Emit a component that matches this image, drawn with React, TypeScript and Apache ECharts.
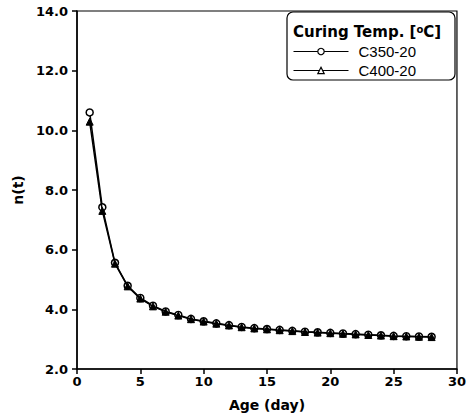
import React, { useEffect, useRef } from "react";
import * as echarts from "echarts";

const days = [1,2,3,4,5,6,7,8,9,10,11,12,13,14,15,16,17,18,19,20,21,22,23,24,25,26,27,28];
const c350 = [10.60,7.42,5.56,4.79,4.38,4.12,3.93,3.81,3.68,3.60,3.53,3.47,3.41,3.37,3.34,3.31,3.28,3.25,3.23,3.21,3.19,3.17,3.15,3.13,3.11,3.10,3.09,3.08];
const c400 = [10.29,7.30,5.53,4.77,4.36,4.10,3.92,3.79,3.67,3.59,3.52,3.46,3.40,3.36,3.33,3.30,3.27,3.24,3.22,3.20,3.18,3.16,3.14,3.12,3.10,3.09,3.08,3.07];
const xTicks = [0, 30, 5];
const yTicks = [2, 14, 2];
const seriesNames = ["C350-20", "C400-20"];

const FONT = "'DejaVu Sans', sans-serif";
const LFONT = "'Liberation Sans', Arial, sans-serif";

export default function App() {
  const ref = useRef<HTMLDivElement>(null);
  useEffect(() => {
    const chart = echarts.init(ref.current!, null, { renderer: "svg" });
    chart.setOption({
      animation: false,
      backgroundColor: "#fff",
      grid: { left: 77, right: 12, top: 11, bottom: 50, show: true, borderColor: "#000", borderWidth: 1.2 },
      xAxis: {
        type: "value",
        min: xTicks[0], max: xTicks[1], interval: xTicks[2],
        name: "Age (day)", nameLocation: "middle", nameGap: 29,
        nameTextStyle: { fontFamily: FONT, fontWeight: "bold", fontSize: 14, color: "#000" },
        axisLine: { lineStyle: { color: "#000", width: 1.5 } },
        axisTick: { show: true, inside: false, length: 5, lineStyle: { color: "#000", width: 1.5 } },
        axisLabel: { fontFamily: FONT, fontWeight: "bold", fontSize: 13, color: "#000", margin: 6 },
        splitLine: { show: false },
      },
      yAxis: {
        type: "value",
        min: yTicks[0], max: yTicks[1], interval: yTicks[2],
        name: "n(t)", nameLocation: "middle", nameGap: 42,
        nameTextStyle: { fontFamily: FONT, fontWeight: "bold", fontSize: 14, color: "#000" },
        axisLine: { lineStyle: { color: "#000", width: 1.5 } },
        axisTick: { show: true, inside: false, length: 5, lineStyle: { color: "#000", width: 1.5 } },
        axisLabel: { fontFamily: FONT, fontWeight: "bold", fontSize: 13, color: "#000", margin: 9, formatter: (v: number) => v.toFixed(1) },
        splitLine: { show: false },
      },
      legend: {
        orient: "vertical",
        left: 293, top: 44, padding: 0,
        itemWidth: 55, itemHeight: 8, itemGap: 4,
        textStyle: { fontFamily: LFONT, fontSize: 15, color: "#000", padding: [0, 0, 0, 5] },
        data: [
          { name: seriesNames[0], itemStyle: { color: "#fff", borderColor: "#000", borderWidth: 1.2 }, lineStyle: { width: 1 } },
          { name: seriesNames[1], itemStyle: { color: "#fff", borderColor: "#000", borderWidth: 1.2 }, lineStyle: { width: 1 } },
        ],
      },
      graphic: [
        { type: "rect", z: 1, shape: { x: 287, y: 12, width: 168, height: 68, r: 6 }, style: { fill: "#fff", stroke: "#000", lineWidth: 1.2 } },
        { type: "text", z: 2, x: 293, y: 24, style: {
          text: "Curing Temp. [{sup|o}C]",
          fontFamily: FONT, fontWeight: "bold", fontSize: 15, fill: "#000",
          rich: { sup: { fontFamily: FONT, fontWeight: "bold", fontSize: 10, verticalAlign: "top", padding: [0, 0, 6, 0] } },
        } },
      ],
      series: [
        {
          name: seriesNames[0], type: "line",
          data: days.map((d, i) => [d, c350[i]]),
          symbol: "circle", symbolSize: 7,
          lineStyle: { color: "#000", width: 1.5 },
          itemStyle: { color: "#fff", borderColor: "#000", borderWidth: 1.5 },
          z: 3,
        },
        {
          name: seriesNames[1], type: "line",
          data: days.map((d, i) => [d, c400[i]]),
          symbol: "triangle", symbolSize: 7,
          lineStyle: { color: "#000", width: 1.5 },
          itemStyle: { color: "#000", borderColor: "#000", borderWidth: 1 },
          z: 4,
        },
      ],
    });
    return () => chart.dispose();
  }, []);
  return <div ref={ref} style={{ width: 469, height: 419, position: "absolute", left: 0, top: 0 }} />;
}
